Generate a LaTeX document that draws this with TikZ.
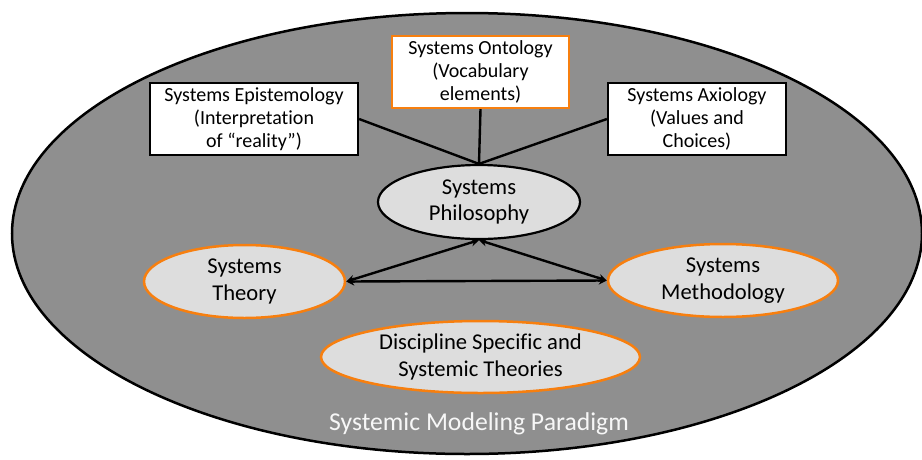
\documentclass[tikz,border=0pt]{standalone}
\usepackage{fontspec}
\setmainfont{Carlito}[Ligatures=NoCommon]
\usetikzlibrary{shapes.geometric,arrows.meta}
\definecolor{bggray}{RGB}{143,143,143}
\definecolor{lightfill}{RGB}{221,221,221}
\definecolor{orng}{RGB}{247,127,15}
\begin{document}
\begin{tikzpicture}[x=1pt,y=-1pt,
  boxnode/.style={draw=black, line width=2.2pt, fill=white, align=center, inner sep=0pt,
    font=\fontsize{20}{23}\selectfont},
  orangebox/.style={boxnode, draw=orng},
  ovalnode/.style={ellipse, draw=black, line width=2.2pt, fill=lightfill, align=center, inner sep=0pt,
    font=\fontsize{22.6}{26.5}\selectfont},
  orangeoval/.style={ovalnode, draw=orng, line width=2.5pt},
  conn/.style={draw=black, line width=2.4pt},
  twoway/.style={draw=black, line width=2.4pt, {Stealth[length=8pt,width=8pt]}-{Stealth[length=8pt,width=8pt]}}
]
\useasboundingbox (0,0) rectangle (922,459);
\fill[white] (0,0) rectangle (922,459);
\draw[line width=2.5pt, fill=bggray] (467,233.5) ellipse [x radius=455, y radius=220.5];

\node[boxnode, minimum width=208pt, minimum height=72pt] (epi) at (254,119)
  {Systems Epistemology\\(Interpretation\\of “reality”)};
\node[orangebox, minimum width=177pt, minimum height=72pt] (onto) at (480.5,72)
  {Systems Ontology\\(Vocabulary\\elements)};
\node[boxnode, minimum width=178pt, minimum height=72pt] (axi) at (697,119)
  {Systems Axiology\\(Values and\\Choices)};

\node[ovalnode, minimum width=202pt, minimum height=74pt] (phil) at (479,202)
  {Systems\\Philosophy};
\node[orangeoval, minimum width=201pt, minimum height=73pt] (theory) at (244.5,281.5)
  {Systems\\Theory};
\node[orangeoval, minimum width=230pt, minimum height=73pt] (meth) at (723,280.5)
  {Systems\\Methodology};
\node[orangeoval, minimum width=319pt, minimum height=72pt] (disc) at (480.5,357)
  {Discipline Specific and\\Systemic Theories};

\node[text=white!94!gray, font=\fontsize{25.7}{30}\selectfont] (title) at (479,424)
  {Systemic Modeling Paradigm};

\draw[conn] (epi.east) -- (phil.north);
\draw[conn] (onto.south) -- (phil.north);
\draw[conn] (axi.west) -- (phil.north);

\draw[twoway] (phil.south) -- (theory.east);
\draw[twoway] (phil.south) -- (meth.west);
\draw[twoway] (theory.east) -- (meth.west);
\end{tikzpicture}
\end{document}
